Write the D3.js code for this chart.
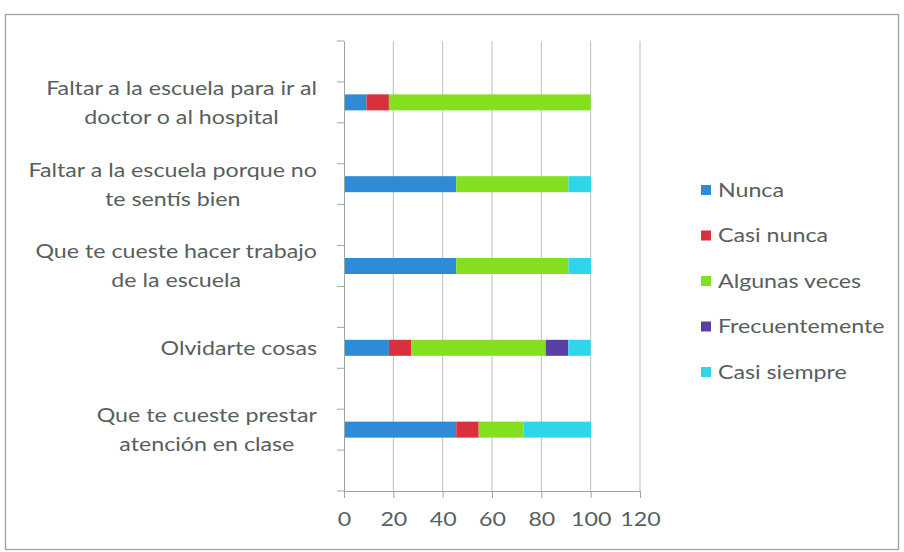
<!DOCTYPE html>
<html><head><meta charset="utf-8">
<script src="https://cdn.jsdelivr.net/npm/d3@7"></script>
<style>body{margin:0;background:#fff}svg{display:block}</style>
</head><body>
<script>
// Data (percent of respondents)
const categories = [
  "", "Faltar a la escuela para ir al|doctor o al hospital",
  " ", "Faltar a la escuela porque no|te sentís bien",
  "  ", "Que te cueste hacer trabajo|de la escuela",
  "   ", "Olvidarte cosas",
  "    ", "Que te cueste prestar|atención en clase",
  "     "
];
const seriesNames = ["Nunca", "Casi nunca", "Algunas veces", "Frecuentemente", "Casi siempre"];
const nunca         = [0, 9.1, 0, 45.5, 0, 45.5, 0, 18.2, 0, 45.5, 0];
const casiNunca     = [0, 9.1, 0, 0,    0, 0,    0, 9.1,  0, 9.1,  0];
const algunasVeces  = [0, 81.8,0, 45.5, 0, 45.5, 0, 54.5, 0, 18.2, 0];
const frecuente     = [0, 0,   0, 0,    0, 0,    0, 9.1,  0, 0,    0];
const casiSiempre   = [0, 0,   0, 9.1,  0, 9.1,  0, 9.1,  0, 27.3, 0];
const xTicks = [0, 20, 40, 60, 80, 100, 120];
const colors = ["#2f8bd6", "#d9303e", "#84e01f", "#5a40a6", "#2fd5e9"];

(function () {
const W = 904, H = 552;
const svg = d3.select("body").append("svg").attr("width", W).attr("height", H);
const font = "Lato, 'Open Sans', sans-serif";
const fs = 19.5, sx = 1.19, txtCol = "#57605d";

// frame
svg.append("rect").attr("x", 5.5).attr("y", 14.5).attr("width", 893).attr("height", 535)
  .attr("fill", "none").attr("stroke", "#9aa8a4").attr("stroke-width", 1.3);

const pLeft = 344, pRight = 640, pTop = 41, pBottom = 491;
const x = d3.scaleLinear().domain([0, 120]).range([pLeft, pRight]);
const y = d3.scaleBand().domain(categories).range([pTop, pBottom]).paddingInner(0).paddingOuter(0);

const table = categories.map((c, i) => ({cat: c, "Nunca": nunca[i], "Casi nunca": casiNunca[i],
  "Algunas veces": algunasVeces[i], "Frecuentemente": frecuente[i], "Casi siempre": casiSiempre[i]}));
const stack = d3.stack().keys(seriesNames)(table);
const color = d3.scaleOrdinal().domain(seriesNames).range(colors);

// gridlines
svg.append("g").selectAll("line").data(xTicks.slice(1)).join("line")
  .attr("x1", d => x(d)).attr("x2", d => x(d)).attr("y1", pTop).attr("y2", pBottom)
  .attr("stroke", "#b8c2bf").attr("stroke-width", 1);

// bars
const barH = 16;
svg.append("g").selectAll("g").data(stack).join("g").attr("fill", d => color(d.key))
  .selectAll("rect").data(d => d.filter(p => p[1] - p[0] > 0)).join("rect")
  .attr("x", d => x(d[0])).attr("width", d => x(d[1]) - x(d[0]))
  .attr("y", d => y(d.data.cat) + y.bandwidth() / 2 - barH / 2).attr("height", barH);

// y axis
const yAxis = d3.axisLeft(y).tickSizeOuter(0).tickSize(0).tickFormat("");
const gy = svg.append("g").attr("transform", `translate(${pLeft},0)`).call(yAxis);
gy.select(".domain").attr("stroke", "#9aa8a4");
const bounds = categories.map(c => y(c)).concat([pBottom]);
svg.append("g").selectAll("line").data(bounds).join("line")
  .attr("x1", pLeft - 7).attr("x2", pLeft).attr("y1", d => d).attr("y2", d => d)
  .attr("stroke", "#9aa8a4");

// x axis
const xAxis = d3.axisBottom(x).tickValues(xTicks).tickSize(7).tickSizeOuter(0).tickPadding(14);
const gx = svg.append("g").attr("transform", `translate(0,${pBottom})`).call(xAxis);
gx.select(".domain").attr("stroke", "#9aa8a4");
gx.selectAll(".tick line").attr("stroke", "#9aa8a4");
gx.selectAll(".tick text").attr("font-family", font).attr("font-size", fs).attr("fill", txtCol)
  .attr("transform", `scale(${sx},1)`);

// category labels
const labRight = 317;
categories.forEach(c => {
  const lines = c.trim() === "" ? [] : c.split("|");
  if (!lines.length) return;
  const cy = y(c) + y.bandwidth() / 2;
  const g = svg.append("g");
  const lh = 29;
  const texts = lines.map((t, i) => g.append("text").text(t)
    .attr("font-family", font).attr("font-size", fs).attr("fill", txtCol)
    .attr("dy", "0.35em").attr("text-anchor", "middle")
    .datum(cy + (i - (lines.length - 1) / 2) * lh));
  const maxW = d3.max(texts.map(t => t.node().getComputedTextLength())) * sx;
  texts.forEach(t => t.attr("transform", `translate(${labRight - maxW / 2},${t.datum()}) scale(${sx},1)`));
});

// legend
const lg = svg.append("g");
seriesNames.forEach((s, i) => {
  const ly = 190 + i * 45.5;
  lg.append("rect").attr("x", 701).attr("y", ly - 5).attr("width", 10).attr("height", 10).attr("fill", colors[i]);
  lg.append("text").text(s).attr("transform", `translate(718,${ly}) scale(${sx},1)`).attr("dy", "0.35em")
    .attr("font-family", font).attr("font-size", fs).attr("fill", txtCol);
});
})();
</script>
</body></html>
